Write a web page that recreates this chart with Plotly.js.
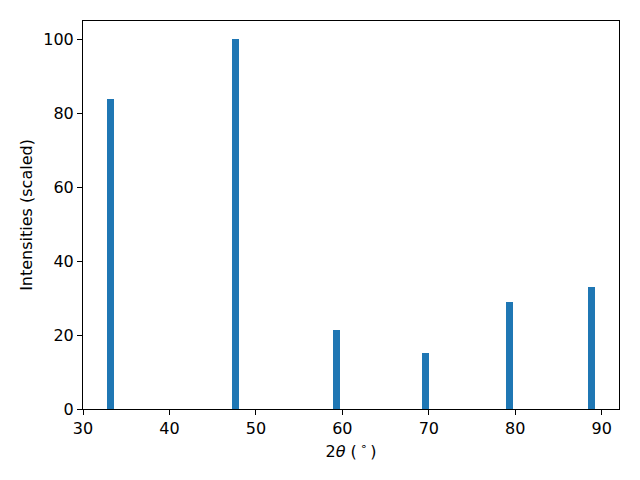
<!DOCTYPE html>
<html><head><meta charset="utf-8">
<script src="https://cdn.plot.ly/plotly-3.0.1.min.js"></script>
<style>body{margin:0;}#chart{width:640px;height:480px;}</style>
</head><body><div id="chart"></div>
<script>
var twoTheta = [33.2, 47.6, 59.3, 69.6, 79.3, 88.8];
var intensities = [83.8, 100, 21.4, 15.2, 29.0, 33.1];
var xTicks = [30, 40, 50, 60, 70, 80, 90];
var yTicks = [0, 20, 40, 60, 80, 100];

var trace = {
  type: 'bar', x: twoTheta, y: intensities, width: 0.8,
  marker: {color: '#1f77b4', line: {width: 0}}, hoverinfo: 'skip'
};
var axisCommon = {
  showgrid: false, zeroline: false, showline: true, mirror: true,
  linecolor: '#000', linewidth: 1, ticks: 'outside', ticklen: 5, tickwidth: 1,
  tickcolor: '#000', tickfont: {family: 'DejaVu Sans', size: 16, color: '#000'}
};
var layout = {
  width: 640, height: 480,
  margin: {l: 83, r: 21, t: 21, b: 71},
  paper_bgcolor: '#fff', plot_bgcolor: '#fff',
  showlegend: false, bargap: 0,
  xaxis: Object.assign({}, axisCommon, {
    range: [30, 92], tickmode: 'array', tickvals: xTicks,
    title: {text: '2<i>θ</i> (\u2009<sup>∘</sup>\u2009)', font: {family: 'DejaVu Sans', size: 16, color: '#000'}, standoff: 8}
  }),
  yaxis: Object.assign({}, axisCommon, {
    range: [0, 105], tickmode: 'array', tickvals: yTicks,
    title: {text: 'Intensities (scaled)', font: {family: 'DejaVu Sans', size: 16, color: '#000'}, standoff: 6}
  })
};
Plotly.newPlot('chart', [trace], layout, {staticPlot: true});
</script></body></html>
